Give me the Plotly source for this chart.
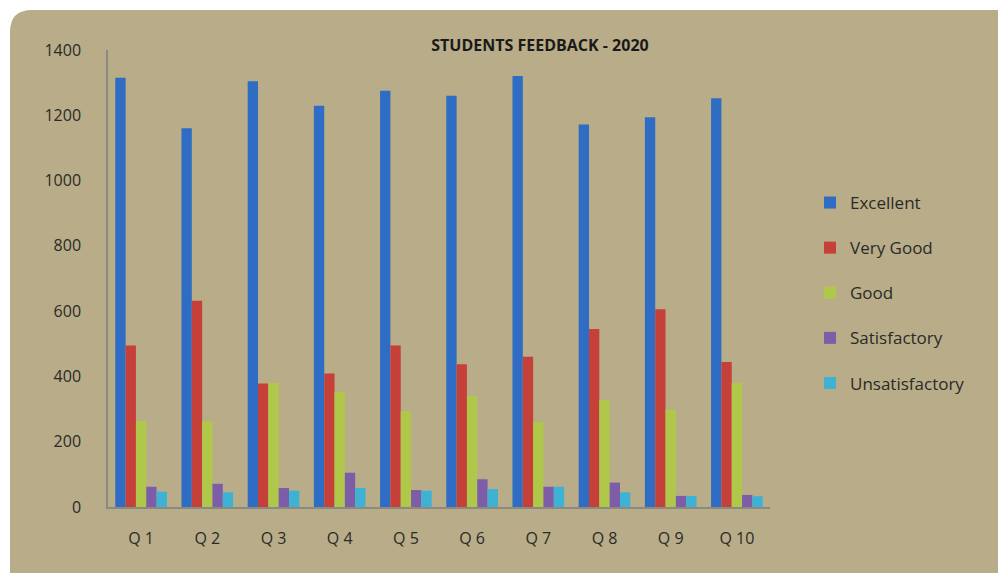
import plotly.graph_objects as go

categories = ["Q 1", "Q 2", "Q 3", "Q 4", "Q 5", "Q 6", "Q 7", "Q 8", "Q 9", "Q 10"]
excellent = [1315, 1160, 1304, 1229, 1275, 1260, 1320, 1172, 1194, 1252]
very_good = [495, 632, 378, 409, 495, 437, 460, 545, 606, 444]
good = [263, 263, 380, 352, 293, 340, 260, 327, 298, 380]
satisfactory = [62, 71, 58, 105, 52, 85, 62, 75, 34, 37]
unsatisfactory = [47, 45, 50, 58, 50, 55, 62, 45, 34, 33]

series = [
    ("Excellent", excellent, "#2f6cc3"),
    ("Very Good", very_good, "#c6403a"),
    ("Good", good, "#b0c84a"),
    ("Satisfactory", satisfactory, "#7d5ca8"),
    ("Unsatisfactory", unsatisfactory, "#3eb2d4"),
]

OFF = 8  # page body margin
W, H = 1006 - OFF, 573 - OFF
L, R, T, B = 108 - OFF, 770 - OFF, 50 - OFF, 507 - OFF
pw, ph = R - L, B - T

def px(x):
    return (x - OFF - L) / pw

def py(y):
    return (B - (y - OFF)) / ph

fig = go.Figure()
for name, vals, col in series:
    fig.add_trace(go.Bar(
        x=categories, y=vals, name=name, legendgroup=name,
        marker=dict(color=col, line=dict(width=0)),
    ))

# rounded tan card behind everything
x0, y0, x1, y1 = 10, 10, 1020, 590
rr = 22
rx, ry = rr / pw, rr / ph
path = (f"M {px(x0)+rx},{py(y0)} L {px(x1)},{py(y0)} L {px(x1)},{py(y1)} "
        f"L {px(x0)},{py(y1)} L {px(x0)},{py(y0)-ry} "
        f"Q {px(x0)},{py(y0)} {px(x0)+rx},{py(y0)} Z")

fig.update_layout(
    width=W, height=H,
    margin=dict(l=L, r=W - R, t=T, b=H - B),
    paper_bgcolor="white",
    plot_bgcolor="rgba(0,0,0,0)",
    shapes=[dict(type="path", path=path, xref="paper", yref="paper",
                 fillcolor="#b8ad88", line=dict(width=0), layer="below")],
    title=dict(text="<b>STUDENTS FEEDBACK - 2020</b>", x=(540 - OFF) / W,
               y=1 - (45 - OFF) / H, xanchor="center", yanchor="middle",
               font=dict(family="Open Sans", size=16, color="#1a1a1a")),
    font=dict(family="Open Sans", color="#2a2a2a"),
    barmode="group", bargap=0.22, bargroupgap=0.0,
    showlegend=True,
    legend=dict(x=px(810), y=py(185), xanchor="left", yanchor="top",
                font=dict(size=17, color="#2a2a2a"), tracegroupgap=20,
                bgcolor="rgba(0,0,0,0)", itemwidth=30),
    xaxis=dict(showline=True, linecolor="#8a8a80", linewidth=1.5,
               tickfont=dict(size=16, color="#2a2a2a"), ticks="",
               showgrid=False, ticklabelstandoff=16),
    yaxis=dict(range=[0, 1400], dtick=200, showline=True, linecolor="#8a8a80",
               linewidth=1.5, showgrid=False, zeroline=False,
               tickfont=dict(size=16, color="#2a2a2a"), ticks="",
               ticklabelstandoff=22),
)

fig.write_html("out.html")
